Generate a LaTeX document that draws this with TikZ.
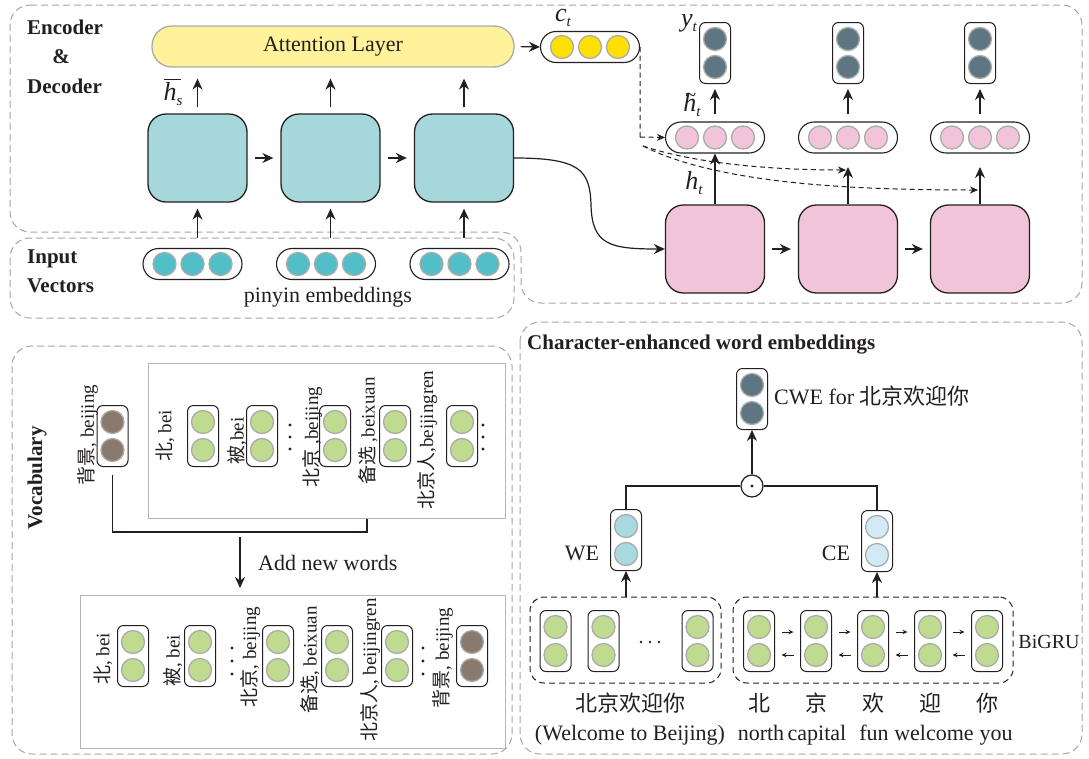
\documentclass[tikz,border=0pt]{standalone}
\usepackage{fix-cm}
\usepackage{fontspec}
\setmainfont{Liberation Serif}
\newfontfamily\cjk{Noto Sans CJK SC}
\usetikzlibrary{arrows.meta,calc}
\definecolor{ink}{HTML}{231F20}
\definecolor{framegray}{HTML}{A6A6A6}
\definecolor{rectgray}{HTML}{B5B5B5}
\definecolor{cgray}{HTML}{ABABAB}
\definecolor{attnY}{HTML}{FFF29A}
\definecolor{ctY}{HTML}{FFE000}
\definecolor{tealD}{HTML}{52BEC7}
\definecolor{encB}{HTML}{A5D7DB}
\definecolor{pinkD}{HTML}{F2C4D9}
\definecolor{darkD}{HTML}{5E7681}
\definecolor{greenD}{HTML}{BEDB8F}
\definecolor{brownD}{HTML}{8A7A6D}
\definecolor{weB}{HTML}{A9DADF}
\definecolor{ceB}{HTML}{D2EAF5}
\newcommand{\mkhvec}[4]{%
  \node[pill] (#1) at (#2,#3) {};
  \foreach \k in {-1,0,1} {\node[circ, fill=#4] (#1-\k) at ([xshift=\k*28pt]#1.center) {};}
}
\newcommand{\mkvvec}[4]{%
  \node[vbox] (#1) at (#2,#3) {};
  \node[circ, fill=#4] (#1-a) at ([yshift=14pt]#1.center) {};
  \node[circ, fill=#4] (#1-b) at ([yshift=-14pt]#1.center) {};
}
\newcommand{\bigit}[1]{{\fontsize{26}{28}\selectfont\itshape #1}}
\newcommand{\subit}[1]{\raisebox{-5pt}{\fontsize{15}{16}\selectfont\itshape #1}}
\begin{document}
\begin{tikzpicture}[x=1pt,y=-1pt,
  frame/.style={draw=framegray, line width=1pt, dash pattern=on 7pt off 4pt, rounded corners=20pt},
  grp/.style={draw=ink, line width=1pt, dash pattern=on 6pt off 4pt, rounded corners=14pt, inner sep=0pt},
  grect/.style={draw=rectgray, line width=1pt, inner sep=0pt},
  vbox/.style={draw=ink, line width=1pt, rounded corners=6pt, minimum width=31pt, minimum height=61pt, inner sep=0pt, fill=white},
  pill/.style={draw=ink, line width=1.1pt, rounded corners=15.5pt, minimum width=99pt, minimum height=31pt, inner sep=0pt, fill=white},
  circ/.style={circle, draw=cgray, line width=1.3pt, minimum size=23pt, inner sep=0pt},
  cell/.style={draw=ink, line width=1.3pt, rounded corners=18pt, minimum width=99pt, minimum height=88pt, inner sep=0pt},
  arr/.style={draw=ink, line width=1.2pt, -{Stealth[length=11pt,width=10pt]}},
  sarr/.style={draw=ink, line width=0.8pt, -{Stealth[length=5pt,width=4.5pt]}},
  ln/.style={draw=ink, line width=1.2pt},
  dsh/.style={draw=ink, line width=1pt, dash pattern=on 5pt off 3.5pt},
  darr/.style={-{Stealth[length=8pt,width=7pt]}},
  txt/.style={font=\fontsize{22}{26}\selectfont, text=ink, inner sep=0pt},
  btxt/.style={font=\fontsize{21}{25}\selectfont\bfseries, text=ink, inner sep=0pt},
  vl/.style={font=\fontsize{19}{22}\selectfont, text=ink, inner sep=0pt, rotate=90},
  mlab/.style={text=ink, inner sep=0pt},
  cjkt/.style={font=\fontsize{22}{26}\selectfont\cjk, text=ink, inner sep=0pt},
  dotsym/.style={circle, fill=ink, minimum size=3.4pt, inner sep=0pt},
  odot/.style={circle, draw=ink, line width=1.2pt, minimum size=22pt, inner sep=0pt, fill=white}
]
\fill[white] (0,0) rectangle (1089,758);
\useasboundingbox (0,0) rectangle (1089,758);

% ---------- frames ----------
\draw[frame] (10,5) -- (1082,5) -- (1082,303) -- (521,303) -- (521,232) -- (10,232) -- cycle;
\draw[frame] (10,238) rectangle (514,318);
\draw[frame] (12,346) rectangle (512,754);
\draw[frame] (520,322) rectangle (1082,754);

% ---------- encoder ----------
\node[btxt, anchor=west] (encT) at (27,27) {Encoder};
\node[btxt] (ampT) at (61,57) {\&};
\node[btxt, anchor=west] (decT) at (27,86) {Decoder};
\node[btxt, anchor=west] (inT) at (27,259) {Input};
\node[btxt, anchor=west] (vecT) at (27,286) {Vectors};

\node[draw=cgray, fill=attnY, line width=1.3pt, rounded corners=20pt, minimum width=362pt, minimum height=41pt, txt] (att) at (333,46.5) {Attention Layer};

\mkhvec{ct}{590}{47}{ctY}
\node[mlab, anchor=base] (ctl) at (563,21) {\bigit{c}\subit{t}};
\draw[arr, shorten <=6pt] (att.east) -- (ct.west);

\node[cell, fill=encB] (e1) at (197.5,158) {};
\node[cell, fill=encB] (e2) at (330.5,158) {};
\node[cell, fill=encB] (e3) at (464,158) {};
\draw[arr, shorten <=7pt, shorten >=7pt] (e1.east) -- (e2.west);
\draw[arr, shorten <=7pt, shorten >=7pt] (e2.east) -- (e3.west);

\foreach \e in {e1,e2,e3} {
  \draw[arr, shorten <=6pt, shorten >=11pt] (\e.north) -- (\e.north |- att.south);
}
\node[mlab] (hsl) at (173,92) {\makebox[0pt][l]{\raisebox{20pt}{\rule{17pt}{1.3pt}}}\bigit{h}\subit{s}};

\mkhvec{in1}{192.5}{264}{tealD}
\mkhvec{in2}{326}{264}{tealD}
\mkhvec{in3}{459.5}{264}{tealD}
\coordinate (i1) at (197.5,238);
\coordinate (i2) at (330.5,238);
\coordinate (i3) at (464,238);
\draw[arr, shorten >=6pt] (i1) -- (e1.south);
\draw[arr, shorten >=6pt] (i2) -- (e2.south);
\draw[arr, shorten >=6pt] (i3) -- (e3.south);
\node[txt] (pinT) at (328,297) {pinyin embeddings};

% ---------- decoder ----------
\node[cell, fill=pinkD] (d1) at (715,249) {};
\node[cell, fill=pinkD] (d2) at (848,249) {};
\node[cell, fill=pinkD] (d3) at (980,249) {};
\draw[arr, shorten <=7pt, shorten >=7pt] (d1.east) -- (d2.west);
\draw[arr, shorten <=7pt, shorten >=7pt] (d2.east) -- (d3.west);

\mkhvec{p1}{715}{137.5}{pinkD}
\mkhvec{p2}{848}{137.5}{pinkD}
\mkhvec{p3}{980}{137.5}{pinkD}
\mkvvec{y1}{715}{53}{darkD}
\mkvvec{y2}{848}{53}{darkD}
\mkvvec{y3}{980}{53}{darkD}
\draw[arr, shorten <=7pt, shorten >=5pt] (p1.north) -- (y1.south);
\draw[arr, shorten <=7pt, shorten >=5pt] (p2.north) -- (y2.south);
\draw[arr, shorten <=7pt, shorten >=5pt] (p3.north) -- (y3.south);
\node[mlab, anchor=base] (ytl) at (689,26) {\bigit{y}\subit{t}};
\node[mlab] (htl) at (692,105) {\makebox[0pt][l]{\hspace{2pt}\raisebox{10pt}{\fontsize{20}{20}\selectfont\textasciitilde}}\bigit{h}\subit{t}};
\node[mlab] (hl) at (694,183) {\bigit{h}\subit{t}};

\draw[arr] (d1.north) -- (p1.south);
\coordinate (t2) at (848,167);
\coordinate (t3) at (980,167);
\draw[arr] (d2.north) -- (t2);
\draw[arr] (d3.north) -- (t3);

\coordinate (dj) at (640,137);
\draw[dsh] (ct.east) -- (dj);
\draw[dsh, darr] (dj) -- (p1.west);
\coordinate (ds) at (643,146);
\coordinate (dt2) at (846,170);
\coordinate (dt3) at (978,190);
\draw[dsh, darr] (ds) .. controls (700,165) and (780,170) .. (dt2);
\draw[dsh, darr] (ds) .. controls (720,185) and (860,190) .. (dt3);

\draw[arr] (e3.east) .. controls (580,158) and (590,170) .. (591,205) .. controls (592,245) and (610,249) .. (d1.west);

% ---------- vocabulary ----------
\node[btxt, rotate=90] (vocT) at (37,478) {Vocabulary};
\node[grect, minimum width=357pt, minimum height=155pt] (vA) at (326.5,440.5) {};
\node[grect, minimum width=425pt, minimum height=153pt] (vB) at (292.5,671.5) {};

\mkvvec{b0}{112.5}{436}{brownD}
\mkvvec{u1}{203}{436}{greenD}
\mkvvec{u2}{262}{436}{greenD}
\mkvvec{u3}{335}{436}{greenD}
\mkvvec{u4}{395}{436}{greenD}
\mkvvec{u5}{462}{436}{greenD}
\node[vl] (lb0) at (88,435) {{\cjk 背景}, beijing};
\node[vl] (lu1) at (165,436) {{\cjk 北}, bei};
\node[vl] (lu2) at (237,441) {{\cjk 被},bei};
\node[vl] (lu3) at (312,437) {{\cjk 北京} ,beijing};
\node[vl] (lu4) at (368,431) {{\cjk 备选} ,beixuan};
\node[vl] (lu5) at (427,440) {{\cjk 北京人},beijingren};
\foreach \yy [count=\i] in {425,437,449} {
  \node[dotsym] (ud1-\i) at (290,\yy) {};
  \node[dotsym] (ud2-\i) at (483,\yy) {};
}

\coordinate (cj) at (367,532);
\draw[ln] ([yshift=-8pt]b0.south) |- (cj) -- (cj |- vA.south);
\coordinate (aw1) at (240,537);
\coordinate (aw2) at (240,588);
\draw[arr] (aw1) -- (aw2);
\node[txt, anchor=west] (addT) at (258,563) {Add new words};

\mkvvec{w1}{133}{656}{greenD}
\mkvvec{w2}{200}{656}{greenD}
\mkvvec{w3}{278}{656}{greenD}
\mkvvec{w4}{337}{656}{greenD}
\mkvvec{w5}{397}{656}{greenD}
\mkvvec{w6}{472}{656}{brownD}
\node[vl] (lw1) at (103,659) {{\cjk 北}, bei};
\node[vl] (lw2) at (173,661) {{\cjk 被}, bei};
\node[vl] (lw3) at (250,657) {{\cjk 北京}, beijing};
\node[vl] (lw4) at (310,660) {{\cjk 备选}, beixuan};
\node[vl] (lw5) at (370,670) {{\cjk 北京人}, beijingren};
\node[vl] (lw6) at (443,658) {{\cjk 背景}, beijing};
\foreach \yy [count=\i] in {648,661,674} {
  \node[dotsym] (wd1-\i) at (232,\yy) {};
  \node[dotsym] (wd2-\i) at (423,\yy) {};
}

% ---------- CWE ----------
\node[btxt, anchor=west] (cweT) at (527,345) {Character-enhanced word embeddings};
\mkvvec{cw}{752}{399}{darkD}
\node[txt, anchor=west] (cwL) at (774,396) {CWE for {\cjk 北京欢迎你}};
\node[odot] (od) at (752,486) {};
\fill[ink] (od.center) circle (1.7);
\mkvvec{we}{626}{540}{weB}
\mkvvec{ce}{877}{541}{ceB}
\node[txt] (weL) at (582,553) {WE};
\node[txt] (ceL) at (836,553) {CE};
\draw[ln] (od.west) -| (we.north);
\draw[ln] (od.east) -| (ce.north);
\draw[arr] (od.north) -- (cw.south);

\node[grp, minimum width=191pt, minimum height=86pt] (lg) at (625.5,640) {};
\node[grp, minimum width=280pt, minimum height=86pt] (rg) at (873,640) {};
\draw[arr] (we.south |- lg.north) -- (we.south);
\draw[arr] (ce.south |- rg.north) -- (ce.south);

\mkvvec{g1}{555.5}{641}{greenD}
\mkvvec{g2}{603.5}{641}{greenD}
\mkvvec{g3}{697.5}{641}{greenD}
\node[dotsym, minimum size=2.6pt] (gd1) at (641,642) {};
\node[dotsym, minimum size=2.6pt] (gd2) at (650,642) {};
\node[dotsym, minimum size=2.6pt] (gd3) at (659,642) {};

\mkvvec{r1}{759}{641}{greenD}
\mkvvec{r2}{816}{641}{greenD}
\mkvvec{r3}{873}{641}{greenD}
\mkvvec{r4}{930}{641}{greenD}
\mkvvec{r5}{987}{641}{greenD}
\foreach \a/\b in {r1/r2,r2/r3,r3/r4,r4/r5} {
  \draw[sarr] ($(\a.east)!0.5!(\b.west)+(-6,-9)$) -- ++(12,0);
  \draw[sarr] ($(\a.east)!0.5!(\b.west)+(6,14)$) -- ++(-12,0);
}
\node[txt, font=\fontsize{20}{24}\selectfont] (bigru) at (1049,642) {BiGRU};

\node[cjkt] (zh0) at (630,703) {北京欢迎你};
\node[cjkt] (zh1) at (759,703) {北};
\node[cjkt] (zh2) at (816,703) {京};
\node[cjkt] (zh3) at (873,703) {欢};
\node[cjkt] (zh4) at (930,703) {迎};
\node[cjkt] (zh5) at (987,703) {你};
\node[txt, anchor=base] (en0) at (630,740) {(Welcome to Beijing)};
\node[txt, anchor=base] (en1) at (761,740) {north};
\node[txt, anchor=base] (en2) at (817,740) {capital};
\node[txt, anchor=base] (en3) at (874,740) {fun};
\node[txt, anchor=base] (en4) at (934,740) {welcome};
\node[txt, anchor=base] (en5) at (996,740) {you};
\end{tikzpicture}
\end{document}
